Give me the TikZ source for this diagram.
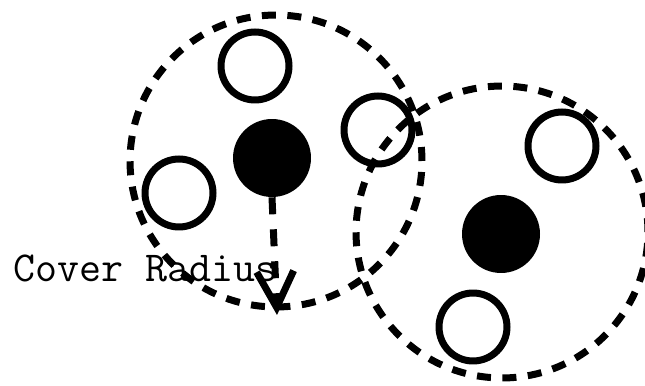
\documentclass[tikz,border=0pt]{standalone}
\usepackage{fontspec}
\usepackage{tikz}
\usetikzlibrary{arrows.meta,positioning}

\begin{document}
\begin{tikzpicture}[x=0.02cm,y=0.02cm,
    cover/.style={circle,draw,line width=0.14cm,dash pattern=on 0.28cm off 0.23cm,minimum size=5.84cm,inner sep=0pt},
    member/.style={circle,draw,line width=0.14cm,minimum size=1.36cm,inner sep=0pt},
    centre/.style={circle,fill=black,minimum size=1.56cm,inner sep=0pt}]
  \useasboundingbox (0,0) rectangle (645,385);
  % first cluster
  \node[cover] (cov1) at (276,224) {};
  \node[centre] (c1) at (272,227) {};
  \node[member] (m1) at (255,319) {};
  \node[member] (m2) at (378,255) {};
  \node[member] (m3) at (179,192) {};
  % second cluster
  \node[cover] (cov2) at (502,153) {};
  \node[centre] (c2) at (501,151) {};
  \node[member] (m4) at (562,239) {};
  \node[member] (m5) at (473,58) {};
  % radius arrow
  \coordinate (tip) at (277,70);
  \draw[line width=0.14cm,dash pattern=on 0.34cm off 0.3cm,-{Straight Barb[length=0.72cm,width=0.74cm]}] (c1.south) -- (tip);
  \node[anchor=base west,inner sep=0pt,font=\ttfamily\fontsize{24.3}{28}\selectfont] (lbl) at (13,103) {Cover Radius};
\end{tikzpicture}
\end{document}
